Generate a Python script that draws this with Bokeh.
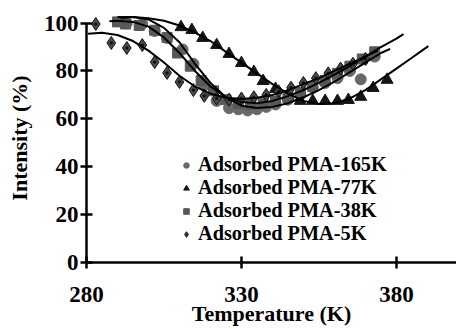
from bokeh.plotting import figure
from bokeh.models import Range1d, FixedTicker, Legend, LegendItem
from bokeh.embed import file_html
from bokeh.resources import INLINE

# ---- data ----
t_165 = [293, 298, 302, 306, 311, 314.5, 318, 322, 326, 329, 332, 335, 338, 341, 345, 349, 353, 357, 361, 365, 368.5, 373]
i_165 = [100, 99.6, 96.7, 93.8, 89, 83, 74, 67.5, 64.5, 64, 63.5, 64, 65, 66, 68, 70, 73, 75, 77, 80, 76.5, 86]

t_77 = [310.5, 314, 317.5, 322, 326, 330, 334, 337, 341, 345, 349, 353, 357, 361, 364.5, 368.5, 372.5, 377]
i_77 = [98.3, 97.1, 93.8, 90.8, 87.1, 83.3, 79.6, 75.8, 72.5, 69.6, 67.5, 67.5, 67.5, 67.5, 67.9, 69.2, 72.9, 76.3]

t_38 = [290, 292.6, 297, 302, 306, 309.4, 313.5, 317, 321, 325, 329, 333, 337, 341, 345, 349, 353, 357, 361, 365, 369, 373]
i_38 = [100.5, 99.6, 99, 97, 94, 87.5, 82, 76, 71.7, 68, 66.5, 66, 66.5, 67.5, 69, 71, 73.5, 76, 79, 82, 85, 88]

t_5 = [283, 288, 293, 298, 302, 306, 310, 314.5, 318, 322, 326, 330, 334, 338, 342, 346, 350, 354, 358, 362, 366, 370]
i_5 = [99.6, 91.7, 89.6, 90.8, 83.7, 79.2, 75.4, 72, 69.6, 68.5, 68, 68.5, 69, 70, 71.5, 73, 75, 77, 79, 81, 83, 85]

# fitted curves
ft_77 = [290, 295, 300, 305, 310, 315, 320, 325, 330, 335, 340, 345, 350, 355, 360, 365, 370, 375, 380, 385, 390.3]
fi_77 = [102.5, 102.5, 102, 101, 99, 96, 92.5, 88, 83.5, 79, 74.5, 70.5, 67.5, 66.2, 66.5, 68.5, 72, 76.5, 81, 85.5, 90.4]

ft_38 = [287.4, 290, 295, 300, 305, 310, 315, 320, 325, 330, 335, 340, 345, 350, 355, 360, 365, 370, 375, 380, 382.3]
fi_38 = [100.8, 101, 100.5, 98.5, 94, 87.5, 80, 73.5, 69, 67, 66.5, 67.5, 69.5, 72, 75, 78.5, 82, 86, 90, 93.5, 95.4]

ft_165 = [291, 295, 300, 305, 310, 315, 320, 325, 330, 335, 340, 345, 350, 355, 360, 365, 370, 375, 378]
fi_165 = [102, 102.5, 101.5, 98, 92, 83, 75, 69, 65.5, 64.5, 65, 66.5, 69, 72, 75.5, 79.5, 83.5, 87.5, 89.2]

ft_5 = [280.5, 285, 290, 295, 300, 305, 310, 315, 320, 325, 330, 335, 340, 345, 350, 355, 360, 365, 370, 374]
fi_5 = [95.5, 96, 95, 92.5, 88.5, 83.5, 78, 73.5, 70.5, 68.8, 68.3, 68.8, 70, 72, 74.5, 77, 80, 83, 86, 88.5]

labels = ["Adsorbed PMA-165K", "Adsorbed PMA-77K", "Adsorbed PMA-38K", "Adsorbed PMA-5K"]
x_ticks = [280, 330, 380]
y_ticks = [0, 20, 40, 60, 80, 100]

FONT = "'Liberation Serif', 'Times New Roman', serif"

p = figure(width=456, height=329, output_backend="svg", toolbar_location=None,
           x_range=Range1d(280, 399.4), y_range=Range1d(0, 104.0),
           min_border_left=86, min_border_right=0, min_border_top=13, min_border_bottom=67)
p.grid.visible = False
p.outline_line_color = None
p.background_fill_color = "white"
p.border_fill_color = "white"

r1 = p.scatter(t_165, i_165, marker="circle", size=11, fill_color="#686868", line_color="#686868")
r2 = p.scatter(t_77, i_77, marker="triangle", size=12, fill_color="#151515", line_color="#151515")
r3 = p.scatter(t_38, i_38, marker="square", size=10, fill_color="#585858", line_color="#585858")
r4 = p.scatter(t_5, i_5, marker="diamond_dot", size=13,
               fill_color="#4a4a4a", line_color="#111111", line_width=1)

for ft, fi in [(ft_77, fi_77), (ft_38, fi_38), (ft_165, fi_165), (ft_5, fi_5)]:
    p.line(ft, fi, line_color="black", line_width=2)

for ax in (p.xaxis[0], p.yaxis[0]):
    ax.axis_line_width = 2.5
    ax.major_tick_line_width = 2.5
    ax.major_tick_in = 6
    ax.major_tick_out = 6
    ax.minor_tick_line_color = None
    ax.major_label_text_font = FONT
    ax.major_label_text_font_style = "bold"
    ax.major_label_text_font_size = "23px"
    ax.major_label_text_color = "black"
    ax.axis_label_text_font = FONT
    ax.axis_label_text_font_style = "bold"
    ax.axis_label_text_font_size = "22px"
    ax.axis_label_text_color = "black"

p.xaxis[0].ticker = FixedTicker(ticks=x_ticks)
p.yaxis[0].ticker = FixedTicker(ticks=y_ticks)
p.yaxis[0].bounds = (0, 100)
p.xaxis[0].axis_label = "Temperature (K)"
p.yaxis[0].axis_label = "Intensity (%)"
p.xaxis[0].major_label_standoff = 18
p.yaxis[0].major_label_standoff = 2
p.xaxis[0].axis_label_standoff = -4
p.yaxis[0].axis_label_standoff = 9

legend = Legend(items=[LegendItem(label=labels[0], renderers=[r1]),
                       LegendItem(label=labels[1], renderers=[r2]),
                       LegendItem(label=labels[2], renderers=[r3]),
                       LegendItem(label=labels[3], renderers=[r4])],
                location=(93, 17), orientation="vertical",
                border_line_color=None, background_fill_alpha=0,
                label_text_font=FONT, label_text_font_style="bold", label_text_font_size="20.3px",
                label_text_color="black",
                glyph_width=14, glyph_height=22, label_height=22, spacing=0,
                label_standoff=5, padding=0, margin=0)
p.add_layout(legend, "center")

open("out.html", "w").write(file_html(p, INLINE))
